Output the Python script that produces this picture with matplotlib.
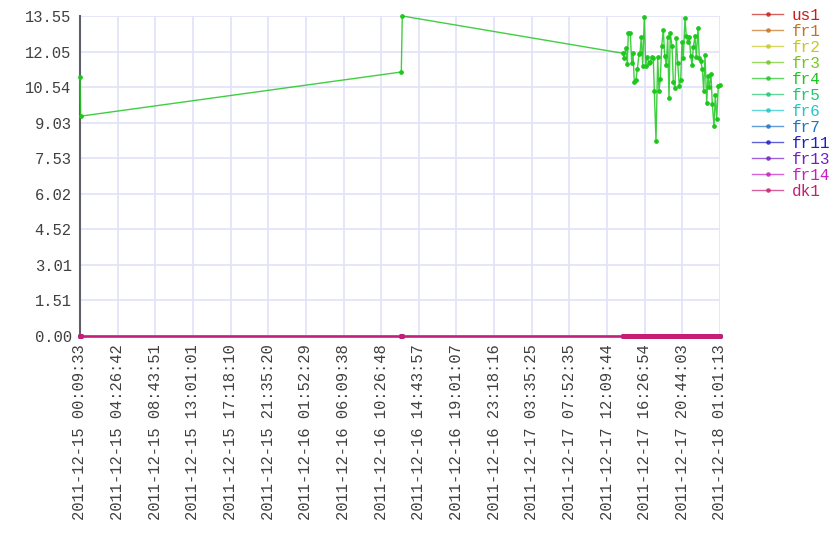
import colorsys
import matplotlib
matplotlib.use("Agg")
import matplotlib.pyplot as plt
import numpy as np
import pandas as pd

plt.rcParams["font.family"] = ["Liberation Mono", "DejaVu Sans Mono"]

series_names = ["us1", "fr1", "fr2", "fr3", "fr4", "fr5",
                "fr6", "fr7", "fr11", "fr13", "fr14", "dk1"]

timestamps = [
    "2011-12-15 00:09:33", "2011-12-15 00:14:20",
    "2011-12-16 12:44:15", "2011-12-16 12:51:04",
    "2011-12-17 14:00:41", "2011-12-17 14:05:28", "2011-12-17 14:17:05",
    "2011-12-17 14:28:01", "2011-12-17 14:34:51", "2011-12-17 14:48:30",
    "2011-12-17 14:58:04", "2011-12-17 15:06:57", "2011-12-17 15:15:50",
    "2011-12-17 15:27:26", "2011-12-17 15:36:19", "2011-12-17 15:47:56",
    "2011-12-17 15:54:46", "2011-12-17 16:03:39", "2011-12-17 16:13:12",
    "2011-12-17 16:24:08", "2011-12-17 16:33:42", "2011-12-17 16:44:38",
    "2011-12-17 16:54:11", "2011-12-17 17:03:04", "2011-12-17 17:14:41",
    "2011-12-17 17:25:37", "2011-12-17 17:32:27", "2011-12-17 17:44:03",
    "2011-12-17 17:55:40", "2011-12-17 18:04:33", "2011-12-17 18:13:26",
    "2011-12-17 18:22:59", "2011-12-17 18:33:55", "2011-12-17 18:43:29",
    "2011-12-17 18:54:25", "2011-12-17 19:03:58", "2011-12-17 19:12:51",
    "2011-12-17 19:21:44", "2011-12-17 19:33:21", "2011-12-17 19:42:13",
    "2011-12-17 19:53:50", "2011-12-17 20:02:43", "2011-12-17 20:12:17",
    "2011-12-17 20:23:13", "2011-12-17 20:32:46", "2011-12-17 20:41:39",
    "2011-12-17 20:50:32", "2011-12-17 21:02:09", "2011-12-17 21:11:01",
    "2011-12-17 21:20:35", "2011-12-17 21:31:31", "2011-12-17 21:41:05",
    "2011-12-17 21:49:57", "2011-12-17 21:58:50", "2011-12-17 22:10:27",
    "2011-12-17 22:19:20", "2011-12-17 22:30:57", "2011-12-17 22:39:49",
    "2011-12-17 22:49:23", "2011-12-17 23:00:19", "2011-12-17 23:09:53",
    "2011-12-17 23:18:45", "2011-12-17 23:30:22", "2011-12-17 23:39:15",
    "2011-12-17 23:48:08", "2011-12-17 23:59:44", "2011-12-18 00:08:37",
    "2011-12-18 00:20:14", "2011-12-18 00:29:07", "2011-12-18 00:38:41",
    "2011-12-18 00:49:36", "2011-12-18 01:01:13",
]

fr4 = [
    10.98, 9.31, 11.18, 13.5515,
    11.97, 11.76, 12.18, 11.52, 12.82, 12.82, 11.55, 11.97, 10.77, 10.84,
    11.29, 11.93, 11.97, 12.65, 11.45, 13.53, 11.45, 11.83, 11.57, 11.62,
    11.80, 11.78, 10.39, 8.26, 11.80, 10.39, 10.88, 12.29, 12.96, 11.86,
    11.48, 12.65, 10.07, 12.82, 12.28, 10.77, 10.49, 12.61, 11.55, 10.59,
    10.84, 12.46, 11.76, 13.45, 12.70, 12.46, 12.67, 11.87, 11.48, 12.22,
    12.70, 11.80, 13.05, 11.76, 11.66, 11.31, 10.39, 11.90, 9.85, 11.01,
    10.53, 11.09, 9.82, 8.89, 10.20, 9.18, 10.59, 10.63,
]

# every other host reported nothing but zeros
values = {name: [0.0] * len(timestamps) for name in series_names}
values["fr4"] = fr4

times = pd.to_datetime(timestamps)

fig = plt.figure(figsize=(8.4, 5.6), dpi=100)
ax = fig.add_axes([80 / 840, 1 - 336 / 560, 640 / 840, 320 / 560])

colors = []
for i, name in enumerate(series_names):
    r, g, b = colorsys.hsv_to_rgb(i / 12, 0.85, 0.78)
    colors.append((r, g, b))
    ax.plot(times, values[name], color=(r, g, b, 0.85), lw=1.0,
            marker="o", ms=2.4, mfc=(r, g, b, 1), mec=(r, g, b, 1),
            label=name, clip_on=False, zorder=3)

ymax = max(fr4)
ax.set_ylim(0, ymax)
yticks = np.linspace(0, ymax, 10)
ax.set_yticks(yticks)
ax.set_yticklabels([f"{v:.2f}" for v in yticks])

span = times[-1] - times[0]
xticks = [times[0] + span * k / 17 for k in range(18)]
ax.set_xlim(times[0], times[-1])
ax.set_xticks(xticks)
ax.set_xticklabels([t.floor("s").strftime("%Y-%m-%d %H:%M:%S") for t in xticks],
                   rotation=90)

ax.tick_params(length=0, pad=6, labelsize=11.2, labelcolor="#404040")
ax.grid(True, color="#e2e2fa", lw=1.2)
ax.set_axisbelow(True)
for side in ("top", "right", "bottom"):
    ax.spines[side].set_visible(False)
ax.spines["left"].set_color("#606068")
ax.spines["left"].set_linewidth(1.5)

leg = fig.legend(loc="upper left", bbox_to_anchor=(752 / 840, 1 - 8 / 560),
                 frameon=False, borderpad=0, borderaxespad=0,
                 labelspacing=0.06, handlelength=1.95, handletextpad=0.55,
                 fontsize=11.5)
for text, c in zip(leg.get_texts(), colors):
    text.set_color(c)
for line in leg.get_lines():
    line.set_alpha(0.7)

fig.savefig("out.png", dpi=100)
